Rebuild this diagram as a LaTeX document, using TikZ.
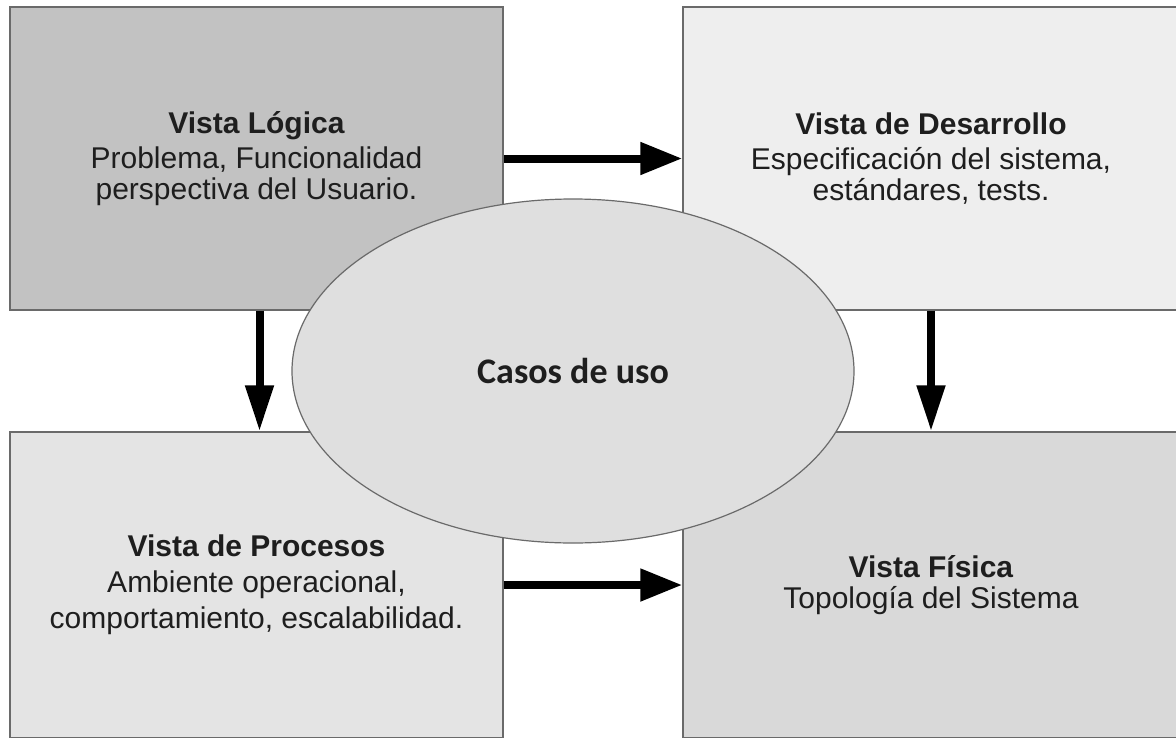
\documentclass[tikz,border=0pt]{standalone}
\usepackage{fontspec}
\setmainfont{Liberation Sans}
\newfontfamily\carl{Carlito}
\usetikzlibrary{arrows.meta,shapes.geometric}
\definecolor{cTL}{HTML}{C2C2C2}
\definecolor{cTR}{HTML}{EEEEEE}
\definecolor{cBL}{HTML}{E4E4E4}
\definecolor{cBR}{HTML}{D9D9D9}
\definecolor{cEl}{HTML}{DFDFDF}
\definecolor{cBorder}{HTML}{6A6A6A}
\definecolor{cText}{HTML}{1E1E1E}
\tikzset{
  viewbox/.style={draw=cBorder, line width=1.4pt, inner sep=0pt, align=center,
    text=cText, font=\fontsize{30}{31}\selectfont},
  harr/.style={line width=8pt, -{Triangle[length=42pt,width=31pt]}},
  varr/.style={line width=8pt, -{Triangle[length=46pt,width=27pt]}},
}
\begin{document}
\begin{tikzpicture}[x=1pt,y=-1pt]
\clip (0,0) rectangle (1176,737);
\fill[white] (0,0) rectangle (1176,737);
\node[viewbox, fill=cTL, minimum width=493pt, minimum height=303pt] (TL) at (256.5,158.5)
  {\textbf{Vista Lógica}\\[4pt]Problema, Funcionalidad\\perspectiva del Usuario.};
\node[viewbox, fill=cTR, minimum width=496pt, minimum height=303pt] (TR) at (931,158.5)
  {\textbf{Vista de Desarrollo}\\[4pt]Especificación del sistema,\\estándares, tests.};
\node[viewbox, fill=cBL, minimum width=493pt, minimum height=306pt,
  font=\fontsize{30}{36}\selectfont] (BL) at (256.5,585)
  {\textbf{Vista de Procesos}\\Ambiente operacional,\\comportamiento, escalabilidad.};
\node[viewbox, fill=cBR, minimum width=496pt, minimum height=306pt] (BR) at (931,585)
  {\textbf{Vista Física}\\Topología del Sistema};
\node[ellipse, draw=cBorder, line width=1.2pt, fill=cEl, inner sep=0pt,
  minimum width=562pt, minimum height=344pt, text=cText,
  font=\carl\bfseries\fontsize{36}{40}\selectfont] (UC) at (573,371) {Casos de uso};
\draw[harr] (TL.east) -- (TR.west);
\draw[harr] (BL.east) -- (BR.west);
\draw[varr] ([xshift=3pt]TL.south) -- ([xshift=3pt]BL.north);
\draw[varr] (TR.south) -- (BR.north);
\end{tikzpicture}
\end{document}
